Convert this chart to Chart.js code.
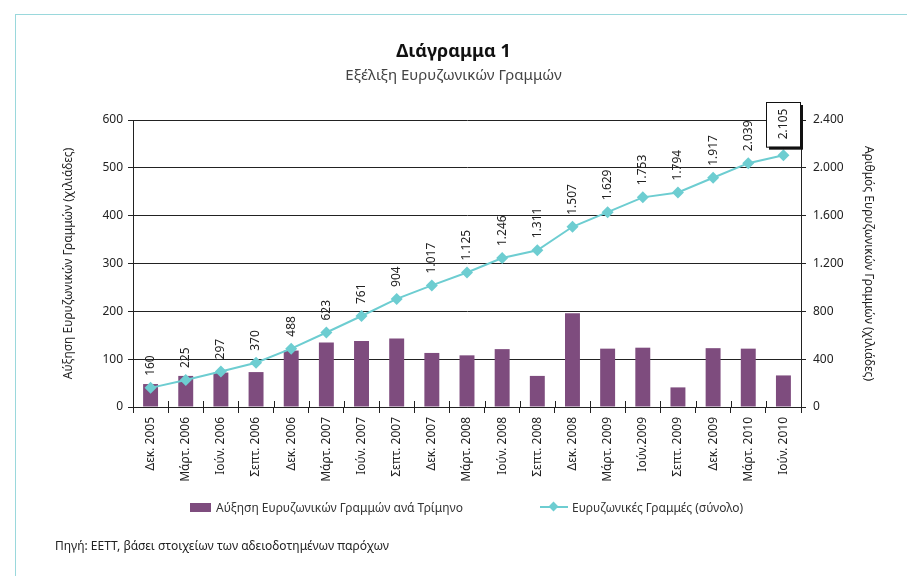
<!DOCTYPE html>
<html lang="el">
<head>
<meta charset="utf-8">
<title>Διάγραμμα 1</title>
<script src="https://cdn.jsdelivr.net/npm/chart.js@4"></script>
<style>
  body { margin: 0; background: #fff; font-family: "Noto Sans", sans-serif; color: #222; }
  #page { position: relative; width: 907px; height: 576px; overflow: hidden; }
  #frameTop { position: absolute; left: 15px; top: 14px; right: 0; height: 1px; background: #9ad8dc; }
  #frameLeft { position: absolute; left: 15px; top: 14px; bottom: 0; width: 1px; background: #9ad8dc; }
  #title { position: absolute; top: 38px; left: 0; width: 907px; text-align: center; font-size: 18px; font-weight: bold; color: #111; }
  #subtitle { position: absolute; top: 64px; left: 0; width: 907px; text-align: center; font-size: 15px; color: #444; }
  #chartBox { position: absolute; left: 0; top: 0; width: 907px; height: 576px; }
  #legend { position: absolute; top: 498px; left: 0; width: 907px; font-size: 12px; color: #333; }
  .item { position: absolute; top: 0; display: flex; align-items: center; height: 18px; white-space: nowrap; }
  .swatch { width: 21px; height: 9px; background: #7e4c7e; margin-right: 5px; }
  .lineSwatch { position: relative; width: 28px; height: 2px; background: #6dcdd1; margin-right: 4px; }
  .lineSwatch::after { content: ""; position: absolute; left: 10px; top: -3px; width: 7px; height: 7px; background: #6dcdd1; transform: rotate(45deg); }
  #source { position: absolute; left: 55px; top: 537px; font-size: 12px; color: #222; }
</style>
</head>
<body>
<div id="page">
  <div id="frameTop"></div>
  <div id="frameLeft"></div>
  <div id="chartBox"><canvas id="chart" width="907" height="576"></canvas></div>
  <div id="title">Διάγραμμα 1</div>
  <div id="subtitle">Εξέλιξη Ευρυζωνικών Γραμμών</div>
  <div id="legend">
    <div class="item" style="left:190px"><span class="swatch"></span>Αύξηση Ευρυζωνικών Γραμμών ανά Τρίμηνο</div>
    <div class="item" style="left:540px"><span class="lineSwatch"></span>Ευρυζωνικές Γραμμές (σύνολο)</div>
  </div>
  <div id="source">Πηγή: ΕΕΤΤ, βάσει στοιχείων των αδειοδοτημένων παρόχων</div>
</div>

<script>
// categorías (trimestres)
const quarters = [
  "Δεκ. 2005", "Μάρτ. 2006", "Ιούν. 2006", "Σεπτ. 2006", "Δεκ. 2006",
  "Μάρτ. 2007", "Ιούν. 2007", "Σεπτ. 2007", "Δεκ. 2007", "Μάρτ. 2008",
  "Ιούν. 2008", "Σεπτ. 2008", "Δεκ. 2008", "Μάρτ. 2009", "Ιούν.2009",
  "Σεπτ. 2009", "Δεκ. 2009", "Μάρτ. 2010", "Ιούν. 2010"
];
// aumento trimestral (miles)
const quarterlyGrowth = [48, 65, 72, 73, 118, 135, 138, 143, 113, 108, 121, 65, 196, 122, 124, 41, 123, 122, 66];
// total de líneas (miles)
const totalLines = [160, 225, 297, 370, 488, 623, 761, 904, 1017, 1125, 1246, 1311, 1507, 1629, 1753, 1794, 1917, 2039, 2105];

const leftMax = 600, leftStep = 100;
const rightMax = 2400, rightStep = 400;

const FONT = "'Noto Sans', sans-serif";
const BAR_COLOR = "#7e4c7e";
const LINE_COLOR = "#6dcdd1";
const AXIS_COLOR = "#222";

// formato con punto de miles
function fmt(v) {
  return String(v).replace(/\B(?=(\d{3})+(?!\d))/g, ".");
}

// marcas del eje x que cruzan la línea del eje (parte interior)
const innerTicks = {
  id: "innerTicks",
  afterDatasetsDraw(chart) {
    const x = chart.scales.x;
    const ctx = chart.ctx;
    const half = x.width / quarters.length / 2;
    ctx.save();
    ctx.strokeStyle = AXIS_COLOR;
    ctx.lineWidth = 1;
    for (let i = 0; i <= quarters.length; i++) {
      const px = Math.round(x.getPixelForValue(0) - half + i * half * 2) + 0.5;
      ctx.beginPath();
      ctx.moveTo(px, x.top - 6);
      ctx.lineTo(px, x.top);
      ctx.stroke();
    }
    ctx.restore();
  }
};

// etiquetas verticales de los valores totales
const valueLabels = {
  id: "valueLabels",
  afterDatasetsDraw(chart) {
    const meta = chart.getDatasetMeta(1);
    const ctx = chart.ctx;
    ctx.save();
    ctx.font = "12px " + FONT;
    meta.data.forEach((pt, i) => {
      const text = fmt(totalLines[i]);
      const w = ctx.measureText(text).width;
      const last = i === totalLines.length - 1;
      if (last) {
        // caja con sombra para el último valor (en coordenadas de pantalla)
        const bw = 34, bh = w + 14;
        const bx = Math.round(pt.x - bw / 2), by = Math.round(pt.y - 9 - bh);
        ctx.fillStyle = "#111";
        ctx.fillRect(bx + 3, by + 3, bw, bh);
        ctx.fillStyle = "#fff";
        ctx.fillRect(bx, by, bw, bh);
        ctx.strokeStyle = "#111";
        ctx.lineWidth = 1;
        ctx.strokeRect(bx + 0.5, by + 0.5, bw, bh);
      }
      ctx.save();
      ctx.translate(pt.x, pt.y - (last ? 16 : 12));
      ctx.rotate(-Math.PI / 2);
      ctx.fillStyle = "#222";
      ctx.textAlign = "left";
      ctx.textBaseline = "middle";
      ctx.fillText(text, 0, 0);
      ctx.restore();
    });
    ctx.restore();
  }
};

const ctx = document.getElementById("chart").getContext("2d");
new Chart(ctx, {
  type: "bar",
  data: {
    labels: quarters,
    datasets: [
      {
        type: "bar",
        label: "Αύξηση Ευρυζωνικών Γραμμών ανά Τρίμηνο",
        data: quarterlyGrowth,
        backgroundColor: BAR_COLOR,
        borderWidth: 0,
        barPercentage: 0.85,
        categoryPercentage: 0.5,
        yAxisID: "y",
        order: 2
      },
      {
        type: "line",
        label: "Ευρυζωνικές Γραμμές (σύνολο)",
        data: totalLines,
        borderColor: LINE_COLOR,
        backgroundColor: LINE_COLOR,
        borderWidth: 2,
        pointStyle: "rectRot",
        pointRadius: 6,
        pointBorderWidth: 0,
        tension: 0,
        yAxisID: "y1",
        order: 1
      }
    ]
  },
  options: {
    responsive: false,
    animation: false,
    layout: { padding: { top: 120, left: 57, right: 27, bottom: 89 } },
    plugins: {
      legend: { display: false },
      tooltip: { enabled: false }
    },
    scales: {
      x: {
        grid: { offset: true, drawOnChartArea: false, tickLength: 6, color: AXIS_COLOR },
        border: { color: AXIS_COLOR, width: 1 },
        ticks: { minRotation: 90, maxRotation: 90, color: "#222", font: { family: FONT, size: 12 }, padding: 4 },
        afterFit(scale) { scale.height = 80; }
      },
      y: {
        position: "left",
        min: 0,
        max: leftMax,
        ticks: { stepSize: leftStep, color: "#222", font: { family: FONT, size: 12 }, padding: 5 },
        grid: { color: AXIS_COLOR, tickLength: 5 },
        border: { color: AXIS_COLOR, width: 1 },
        title: {
          display: true,
          text: "Αύξηση Ευρυζωνικών Γραμμών (χιλιάδες)",
          color: "#222",
          font: { family: FONT, size: 12 }
        },
        afterFit(scale) { scale.width = 76; }
      },
      y1: {
        position: "right",
        min: 0,
        max: rightMax,
        ticks: { stepSize: rightStep, color: "#222", font: { family: FONT, size: 12 }, padding: 7, callback: (v) => fmt(v) },
        grid: { drawOnChartArea: false, color: AXIS_COLOR, tickLength: 5 },
        border: { color: AXIS_COLOR, width: 1 },
        title: {
          display: true,
          text: "Αριθμός Ευρυζωνικών Γραμμών (χιλιάδες)",
          color: "#222",
          font: { family: FONT, size: 12 }
        },
        afterFit(scale) { scale.width = 79; }
      }
    }
  },
  plugins: [innerTicks, valueLabels]
});
</script>
</body>
</html>
